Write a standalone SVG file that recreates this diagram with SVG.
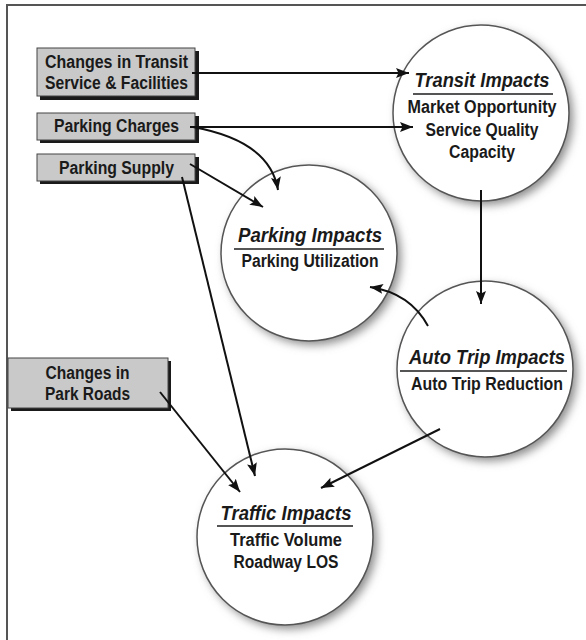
<svg xmlns="http://www.w3.org/2000/svg" width="586" height="640" viewBox="0 0 586 640">
<defs>
<style>
.box{fill:#c9c9c9;stroke:#444;stroke-width:1}
.bshadow{fill:#1a1a1a}
.circ{fill:#fff;stroke:#555;stroke-width:1.5}
.cshadow{fill:#8a8a8a}
.bt{font-family:"Liberation Sans",Arial,sans-serif;font-weight:bold;font-size:18px;fill:#1a1a1a;text-anchor:middle}
.ti{font-family:"Liberation Sans",Arial,sans-serif;font-weight:bold;font-style:italic;font-size:21px;fill:#1a1a1a;text-anchor:middle}
.rule{stroke:#555;stroke-width:2}
.conn{fill:none;stroke:#111;stroke-width:2}
</style>
<filter id="blur" x="-30%" y="-30%" width="160%" height="160%"><feGaussianBlur stdDeviation="5"/></filter>
<marker id="arr" markerUnits="userSpaceOnUse" markerWidth="15" markerHeight="11" refX="13" refY="5.5" orient="auto">
<path d="M0,0.5 L13,5.5 L0,10.5 L2.5,5.5 z" fill="#111"/>
</marker>
</defs>
<rect x="0" y="0" width="586" height="640" fill="#fff"/>
<path d="M7,640 V5 H586" fill="none" stroke="#555" stroke-width="2"/>

<g id="transit-impacts">
<circle class="cshadow" cx="485" cy="117" r="88" filter="url(#blur)"/>
<circle class="circ" cx="481" cy="113" r="88"/>
<text class="ti" x="482" y="87" textLength="135" lengthAdjust="spacingAndGlyphs">Transit Impacts</text>
<line class="rule" x1="413" y1="94" x2="553" y2="94"/>
<text class="bt" x="482" y="113" textLength="149" lengthAdjust="spacingAndGlyphs">Market Opportunity</text>
<text class="bt" x="482" y="136" textLength="113" lengthAdjust="spacingAndGlyphs">Service Quality</text>
<text class="bt" x="482" y="158" textLength="66" lengthAdjust="spacingAndGlyphs">Capacity</text>
</g>

<g id="parking-impacts">
<circle class="cshadow" cx="313" cy="257" r="88" filter="url(#blur)"/>
<circle class="circ" cx="309" cy="253" r="88"/>
<text class="ti" x="310" y="242" textLength="144" lengthAdjust="spacingAndGlyphs">Parking Impacts</text>
<line class="rule" x1="234" y1="249" x2="384" y2="249"/>
<text class="bt" x="310" y="267" textLength="137" lengthAdjust="spacingAndGlyphs">Parking Utilization</text>
</g>

<g id="auto-trip-impacts">
<circle class="cshadow" cx="489" cy="373" r="88" filter="url(#blur)"/>
<circle class="circ" cx="485" cy="369" r="88"/>
<text class="ti" x="487" y="364" textLength="156" lengthAdjust="spacingAndGlyphs">Auto Trip Impacts</text>
<line class="rule" x1="400" y1="371" x2="567" y2="371"/>
<text class="bt" x="487" y="390" textLength="152" lengthAdjust="spacingAndGlyphs">Auto Trip Reduction</text>
</g>

<g id="traffic-impacts">
<circle class="cshadow" cx="289" cy="541" r="88" filter="url(#blur)"/>
<circle class="circ" cx="285" cy="537" r="88"/>
<text class="ti" x="286" y="520" textLength="131" lengthAdjust="spacingAndGlyphs">Traffic Impacts</text>
<line class="rule" x1="217" y1="526" x2="353" y2="526"/>
<text class="bt" x="286" y="546" textLength="112" lengthAdjust="spacingAndGlyphs">Traffic Volume</text>
<text class="bt" x="286" y="568" textLength="105" lengthAdjust="spacingAndGlyphs">Roadway LOS</text>
</g>

<g id="changes-transit">
<rect class="bshadow" x="40" y="51" width="159" height="49"/>
<rect class="box" x="37" y="48" width="158" height="48"/>
<text class="bt" x="116.5" y="68" textLength="143" lengthAdjust="spacingAndGlyphs">Changes in Transit</text>
<text class="bt" x="116.5" y="89" textLength="143" lengthAdjust="spacingAndGlyphs">Service &amp; Facilities</text>
</g>

<g id="parking-charges">
<rect class="bshadow" x="40" y="116" width="159" height="27"/>
<rect class="box" x="37" y="113" width="158" height="27"/>
<text class="bt" x="116.5" y="132" textLength="125" lengthAdjust="spacingAndGlyphs">Parking Charges</text>
</g>

<g id="parking-supply">
<rect class="bshadow" x="40" y="157" width="159" height="27"/>
<rect class="box" x="37" y="154" width="158" height="27"/>
<text class="bt" x="116.5" y="174" textLength="115" lengthAdjust="spacingAndGlyphs">Parking Supply</text>
</g>

<g id="changes-park-roads">
<rect class="bshadow" x="11" y="361" width="160" height="50"/>
<rect class="box" x="8" y="358" width="160" height="50"/>
<text class="bt" x="87.5" y="379" textLength="84" lengthAdjust="spacingAndGlyphs">Changes in</text>
<text class="bt" x="87.5" y="400" textLength="85" lengthAdjust="spacingAndGlyphs">Park Roads</text>
</g>

<g id="connectors">
<path class="conn" marker-end="url(#arr)" d="M192,73 H409"/>
<path class="conn" marker-end="url(#arr)" d="M190,127 H413"/>
<path class="conn" marker-end="url(#arr)" d="M193,127 Q270,141 278,190"/>
<path class="conn" marker-end="url(#arr)" d="M190,164 L263,207"/>
<path class="conn" marker-end="url(#arr)" d="M182,177 L255,476"/>
<path class="conn" marker-end="url(#arr)" d="M160,392 L240,492"/>
<path class="conn" marker-end="url(#arr)" d="M440,429 L321,488"/>
<path class="conn" marker-end="url(#arr)" d="M481,190 V304"/>
<path class="conn" marker-end="url(#arr)" d="M428,326 Q410,293 370,287"/>
</g>
</svg>
